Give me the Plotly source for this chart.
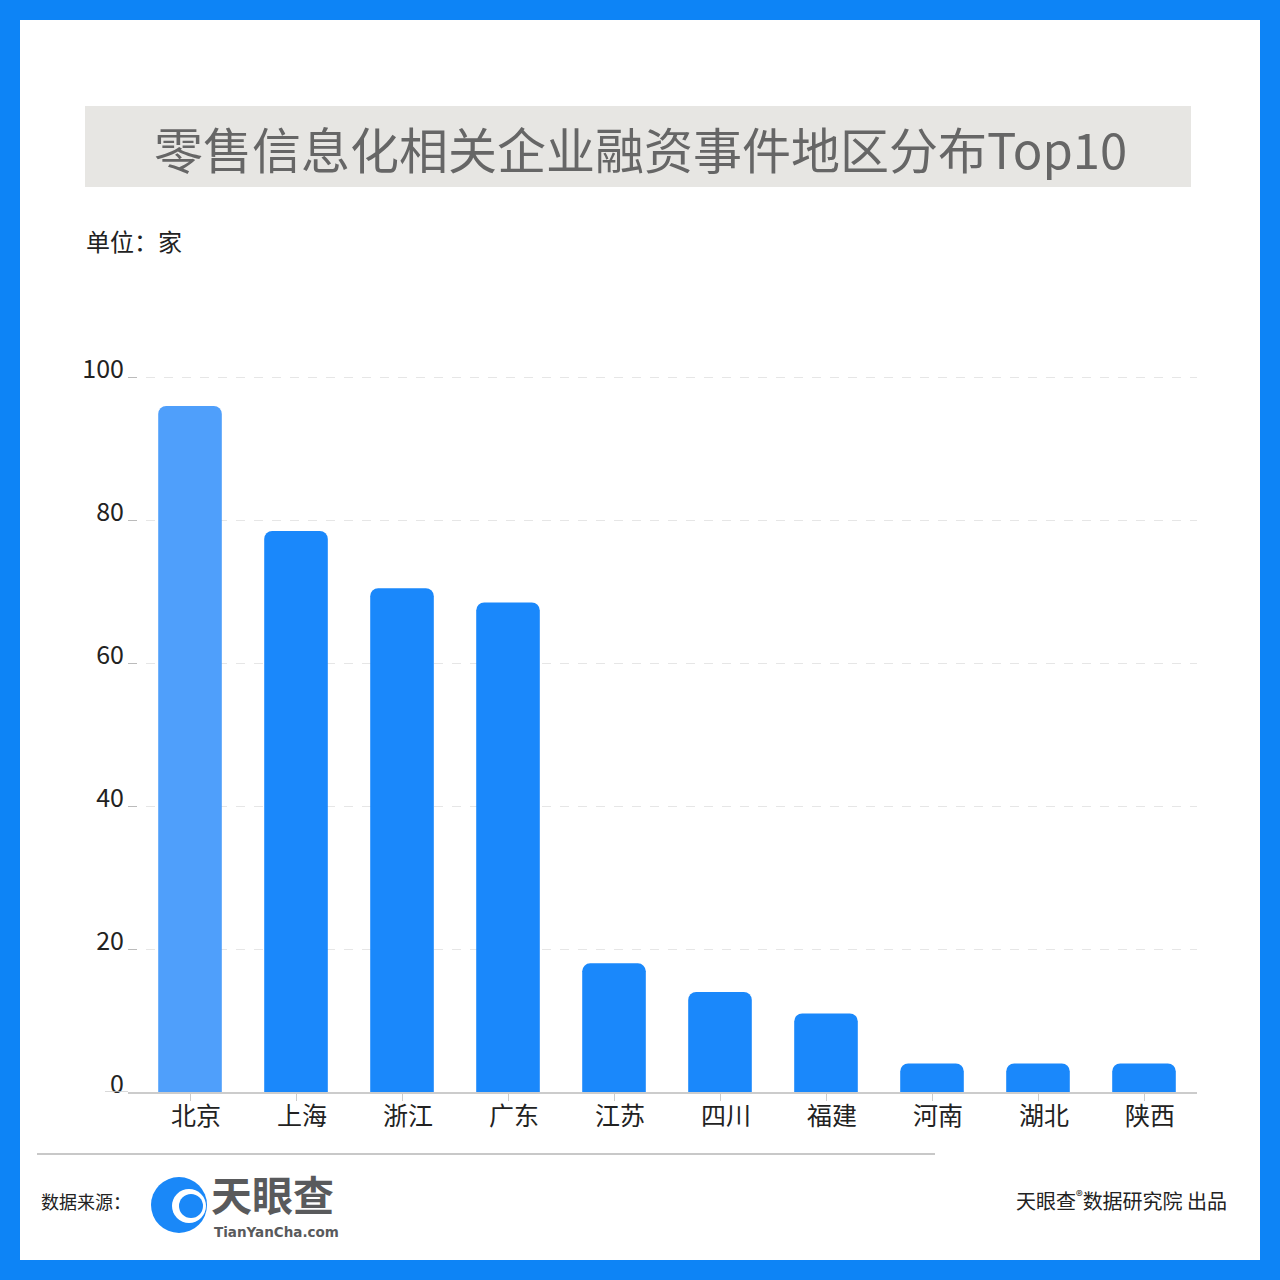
import plotly.graph_objects as go

categories = ["北京", "上海", "浙江", "广东", "江苏", "四川", "福建", "河南", "湖北", "陕西"]
values = [96, 78.5, 70.5, 68.5, 18, 14, 11, 4, 4, 4]
bar_colors = ["#4f9ffb"] + ["#1a88fb"] * 9
y_ticks = [0, 20, 40, 60, 80, 100]

W, H = 1280, 1280
L, R, T, B = 128, 83, 363, 188
PW, PH = W - L - R, H - T - B
FONT = "Noto Sans CJK SC"


def fx(px):
    return (px - L) / PW


def fy(py):
    return (H - B - py) / PH


fig = go.Figure()
fig.add_trace(go.Bar(
    x=list(range(len(categories))), y=values,
    marker=dict(color=bar_colors, cornerradius=8, line=dict(width=0)),
    width=0.6, hoverinfo="skip",
))

shapes = [
    dict(type="rect", xref="paper", yref="paper", x0=fx(20), x1=fx(1260), y0=fy(20), y1=fy(1260),
         fillcolor="white", line=dict(width=0), layer="below"),
    dict(type="rect", xref="paper", yref="paper", x0=fx(85), x1=fx(1191), y0=fy(106), y1=fy(187),
         fillcolor="#e7e6e3", line=dict(width=0), layer="below"),
    dict(type="line", xref="paper", yref="y", x0=fx(105), x1=fx(128), y0=0, y1=0,
         line=dict(color="#cccccc", width=1.5)),
    dict(type="line", xref="paper", yref="paper", x0=fx(37), x1=fx(935), y0=fy(1154), y1=fy(1154),
         line=dict(color="#c8c8c8", width=2)),
    dict(type="circle", xref="paper", yref="paper", x0=fx(151), x1=fx(207), y0=fy(1177), y1=fy(1233),
         fillcolor="#1a88f8", line=dict(width=0)),
    dict(type="circle", xref="paper", yref="paper", x0=fx(172), x1=fx(206), y0=fy(1189), y1=fy(1223),
         fillcolor="white", line=dict(width=0)),
    dict(type="circle", xref="paper", yref="paper", x0=fx(179), x1=fx(203), y0=fy(1194), y1=fy(1218),
         fillcolor="#1a88f8", line=dict(width=0)),
]

annotations = [
    dict(text="零售信息化相关企业融资事件地区分布Top10", x=fx(640), y=fy(148), xref="paper", yref="paper",
         showarrow=False, xanchor="center", yanchor="middle",
         font=dict(family=FONT, size=49, color="#666666")),
    dict(text="单位：家", x=fx(84), y=fy(240), xref="paper", yref="paper",
         showarrow=False, xanchor="left", yanchor="middle",
         font=dict(family=FONT, size=24, color="#222222")),
    dict(text="数据来源：", x=fx(39), y=fy(1201), xref="paper", yref="paper",
         showarrow=False, xanchor="left", yanchor="middle",
         font=dict(family=FONT, size=18, color="#222222")),
    dict(text="<b>天眼查</b>", x=fx(209), y=fy(1193), xref="paper", yref="paper",
         showarrow=False, xanchor="left", yanchor="middle",
         font=dict(family=FONT, size=41, color="#595a5c")),
    dict(text="<b>TianYanCha.com</b>", x=fx(212), y=fy(1232), xref="paper", yref="paper",
         showarrow=False, xanchor="left", yanchor="middle",
         font=dict(family="DejaVu Sans", size=13.5, color="#595a5c")),
    dict(text="天眼查<sup>®</sup>数据研究院 出品", x=fx(1229), y=fy(1200), xref="paper", yref="paper",
         showarrow=False, xanchor="right", yanchor="middle",
         font=dict(family=FONT, size=20, color="#222222")),
]

fig.update_layout(
    width=W, height=H,
    margin=dict(l=L, r=R, t=T, b=B),
    paper_bgcolor="#0d84f6", plot_bgcolor="white",
    showlegend=False, bargap=0.4,
    shapes=shapes, annotations=annotations,
    font=dict(family=FONT, color="#222222"),
    xaxis=dict(
        range=[-0.585, 9.5], tickmode="array", tickvals=list(range(len(categories))),
        ticktext=categories, tickfont=dict(family=FONT, size=25, color="#222222"),
        showline=True, linecolor="#cccccc", linewidth=1.5,
        ticks="outside", ticklen=7, tickcolor="#cccccc", tickwidth=1,
        ticklabelstandoff=-6, ticklabelshift=6,
        showgrid=False, zeroline=False, fixedrange=True,
    ),
    yaxis=dict(
        range=[0, 102], tickmode="array", tickvals=y_ticks,
        ticktext=[str(v) for v in y_ticks], tickfont=dict(family=FONT, size=25, color="#222222"),
        showgrid=True, gridcolor="#e6e6e6", griddash="dash", gridwidth=1,
        ticks="inside", ticklen=9, tickcolor="#bbbbbb", tickwidth=1,
        ticklabelshift=-8, ticklabelstandoff=3,
        showline=False, zeroline=False, fixedrange=True,
    ),
)

fig.write_html("out.html", post_script="document.body.style.margin='0';",
               config={"displayModeBar": False})
